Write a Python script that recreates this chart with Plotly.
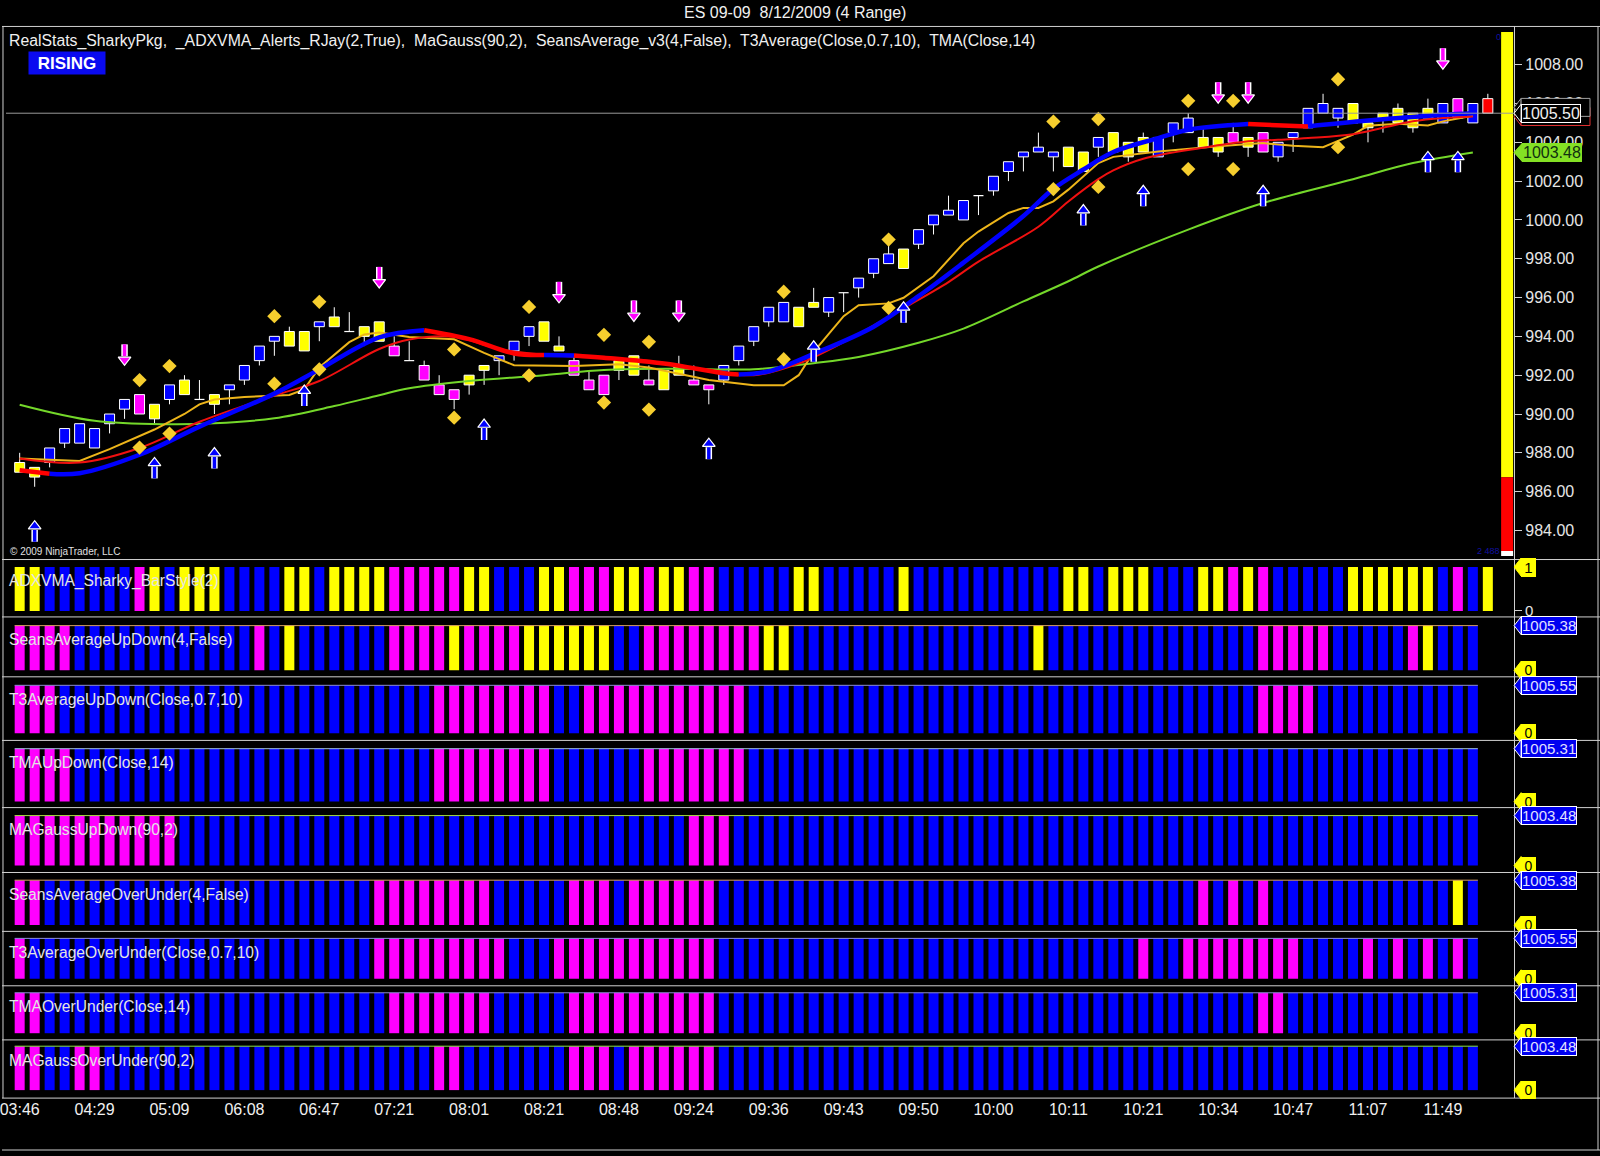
import plotly.graph_objects as go

# ---------------- data ----------------
title_text = "ES 09-09  8/12/2009 (4 Range)"
chart_label = ("RealStats_SharkyPkg,  _ADXVMA_Alerts_RJay(2,True),  MaGauss(90,2),  "
               "SeansAverage_v3(4,False),  T3Average(Close,0.7,10),  TMA(Close,14)")
trend_text = "RISING"
copyright_text = "© 2009 NinjaTrader, LLC"

time_labels = ["03:46", "04:29", "05:09", "06:08", "06:47", "07:21", "08:01", "08:21", "08:48", "09:24",
               "09:36", "09:43", "09:50", "10:00", "10:11", "10:21", "10:34", "10:47", "11:07", "11:49"]
price_ticks = [984, 986, 988, 990, 992, 994, 996, 998, 1000, 1002, 1004, 1006, 1008]

# 4-range candles, one per bar
opens = [987.5, 987.25, 987.5, 988.5, 988.5, 988.25, 989.5, 990.25, 991.0, 990.5,
         990.75, 991.75, 990.75, 991.0, 991.25, 991.75, 992.75, 993.75, 994.25, 994.25,
         994.5, 995.0, 994.25, 994.5, 994.75, 993.5, 992.75, 992.5, 991.5, 991.25,
         992.0, 992.5, 992.75, 993.25, 994.0, 994.75, 993.5, 992.75, 991.75, 992.0,
         992.75, 993.0, 991.75, 992.25, 992.5, 991.75, 991.5, 991.75, 992.75, 993.75,
         994.75, 994.75, 995.5, 995.75, 995.25, 996.25, 996.5, 997.25, 997.75, 998.5,
         998.75, 999.75, 1000.25, 1000.0, 1001.25, 1001.5, 1002.5, 1003.25, 1003.5, 1003.25,
         1003.75, 1003.5, 1003.75, 1004.5, 1004.0, 1004.25, 1003.25, 1004.5, 1004.5, 1004.25,
         1004.25, 1004.5, 1004.25, 1004.5, 1003.25, 1004.25, 1004.75, 1005.5, 1005.25, 1006.0,
         1005.0, 1005.5, 1005.75, 1005.5, 1005.75, 1005.0, 1006.25, 1005.0, 1006.25]
closes = [987.0, 986.75, 988.25, 989.25, 989.5, 989.25, 990.0, 990.75, 990.0, 989.75,
          991.5, 991.0, 990.75, 990.5, 991.5, 992.5, 993.5, 994.0, 993.5, 993.25,
          994.75, 994.5, 994.25, 994.0, 993.75, 993.0, 992.75, 991.75, 991.0, 990.75,
          991.5, 992.25, 993.0, 993.75, 994.5, 993.75, 993.25, 992.0, 991.25, 991.0,
          992.25, 992.0, 991.5, 991.25, 992.0, 991.5, 991.25, 992.5, 993.5, 994.5,
          995.5, 995.75, 994.5, 995.5, 996.0, 996.25, 997.0, 998.0, 998.25, 997.5,
          999.5, 1000.25, 1000.5, 1001.0, 1001.25, 1002.25, 1003.0, 1003.5, 1003.75, 1003.5,
          1002.75, 1002.5, 1004.25, 1003.5, 1003.25, 1003.5, 1004.25, 1005.0, 1005.25, 1003.75,
          1003.5, 1004.0, 1003.75, 1003.5, 1004.0, 1004.5, 1005.75, 1006.0, 1005.75, 1005.0,
          1004.75, 1005.25, 1005.0, 1004.75, 1005.25, 1006.0, 1005.25, 1006.0, 1005.5]
highs = [988.0, 987.25, 988.25, 989.25, 989.5, 989.25, 990.0, 990.75, 991.0, 990.5,
         991.5, 992.0, 991.75, 991.0, 991.5, 992.5, 993.5, 994.0, 994.5, 994.25,
         994.75, 995.5, 995.25, 994.5, 994.75, 994.0, 993.75, 992.75, 992.0, 991.25,
         992.0, 992.5, 993.0, 993.75, 994.5, 994.75, 994.0, 993.0, 992.25, 992.0,
         992.75, 993.0, 992.5, 992.25, 993.0, 992.5, 991.5, 992.5, 993.5, 994.5,
         995.5, 995.75, 995.5, 996.5, 996.0, 996.25, 997.0, 998.0, 998.75, 998.5,
         999.5, 1000.25, 1001.25, 1001.0, 1001.25, 1002.25, 1003.0, 1003.5, 1004.5, 1003.5,
         1003.75, 1003.5, 1004.25, 1004.5, 1004.0, 1004.5, 1004.25, 1005.0, 1005.5, 1004.75,
         1004.25, 1005.0, 1004.25, 1004.5, 1004.0, 1004.5, 1005.75, 1006.5, 1005.75, 1006.0,
         1005.0, 1005.5, 1006.0, 1005.5, 1006.25, 1006.0, 1006.25, 1006.0, 1006.5]
lows = [987.0, 986.25, 987.25, 988.25, 988.5, 988.25, 989.0, 989.75, 990.0, 989.5,
        990.5, 991.0, 990.75, 990.0, 990.5, 991.5, 992.5, 993.0, 993.5, 993.25,
        993.75, 994.5, 994.25, 993.5, 993.75, 993.0, 992.75, 991.75, 991.0, 990.25,
        991.0, 991.5, 992.0, 992.75, 993.5, 993.75, 993.25, 992.0, 991.25, 991.0,
        991.75, 992.0, 991.5, 991.25, 992.0, 991.5, 990.5, 991.5, 992.5, 993.5,
        994.5, 994.75, 994.5, 995.5, 995.0, 995.25, 996.0, 997.0, 997.75, 997.5,
        998.5, 999.25, 1000.25, 1000.0, 1000.25, 1001.25, 1002.0, 1002.5, 1003.5, 1002.5,
        1002.75, 1002.5, 1003.25, 1003.5, 1003.0, 1003.5, 1003.25, 1004.0, 1004.5, 1003.75,
        1003.25, 1004.0, 1003.25, 1003.5, 1003.0, 1003.5, 1004.75, 1005.5, 1004.75, 1005.0,
        1004.0, 1004.5, 1005.0, 1004.5, 1005.25, 1005.0, 1005.25, 1005.0, 1005.5]

# indicator lines (bar index, value) read at key bars
adx_bars = [0, 2, 4, 8, 12, 17, 20, 24, 27, 30, 33, 35, 37, 39, 43, 47, 48, 50, 53, 57, 60, 63, 67, 69,
            71, 73, 76, 78, 82, 86, 90, 95, 97]
adx_vals = [987.1, 986.92, 986.95, 987.9, 989.35, 991.05, 992.3, 993.95, 994.32, 993.86, 993.12, 993.04,
            993.02, 992.9, 992.6, 992.1, 992.04, 992.2, 993.1, 994.5, 996.07, 997.8, 1000.2, 1001.6,
            1002.6, 1003.5, 1004.22, 1004.65, 1004.94, 1004.82, 1005.12, 1005.42, 1005.5]
adx_falling = [(0, 2), (27, 35), (37, 48), (82, 86)]

tma_bars = [0, 4, 8, 12, 17, 20, 24, 26, 29, 32, 35, 39, 42, 46, 49, 52, 55, 59, 62, 64, 68, 70, 72, 73,
            75, 79, 82, 84, 86, 89, 91, 93, 95, 97]
tma_vals = [987.71, 987.5, 988.25, 989.6, 990.95, 991.7, 993.35, 993.84, 993.98, 993.35, 993.05, 992.9,
            992.73, 992.25, 992.0, 992.6, 993.7, 995.45, 996.8, 997.85, 999.65, 1000.95, 1002.1, 1002.55,
            1003.15, 1003.72, 1004.05, 1004.13, 1004.22, 1004.42, 1004.75, 1005.08, 1005.25, 1005.33]

t3_bars = [0, 4, 6, 9, 11, 12, 13, 15, 18, 19, 20, 22, 23, 24, 26, 29, 31, 33, 37, 40, 42, 46, 49, 51,
           52, 53, 55, 56, 58, 59, 61, 63, 64, 66, 67, 68, 69, 70, 72, 73, 76, 80, 83, 85, 87, 89, 90,
           92, 94, 95, 97]
t3_vals = [987.71, 987.58, 988.19, 989.2, 990.0, 990.5, 990.75, 990.88, 990.98, 991.27, 992.4, 993.7,
           994.1, 994.2, 993.97, 993.85, 993.15, 992.51, 992.47, 992.56, 992.4, 991.75, 991.48, 991.48,
           992.0, 993.2, 995.04, 995.61, 995.7, 995.99, 997.1, 998.8, 999.4, 1000.36, 1000.62, 1000.62,
           1000.96, 1001.56, 1002.93, 1003.25, 1003.53, 1003.8, 1003.96, 1003.82, 1003.75, 1004.4,
           1004.85, 1004.95, 1004.87, 1005.08, 1005.37]

gauss_bars = [0, 5, 10, 13, 17, 21, 24, 26, 30, 35, 39, 44, 49, 53, 56, 60, 63, 67, 70, 72, 78, 83, 89,
              93, 97]
gauss_vals = [990.48, 989.65, 989.47, 989.52, 989.78, 990.41, 990.97, 991.33, 991.7, 992.0, 992.27,
              992.33, 992.31, 992.62, 992.94, 993.67, 994.4, 995.8, 996.84, 997.6, 999.5, 1000.87,
              1002.1, 1002.93, 1003.48]

# alert diamonds above/below bars
diamond_bars = [8, 10, 17, 20, 29, 34, 39, 42, 51, 58, 69, 72, 78, 81, 88]
diamond_hi = [991.75, 992.47, 995.04, 995.78, 993.33, 995.52, 994.08, 993.72, 996.3, 998.99,
              1005.07, 1005.2, 1006.14, 1006.14, 1007.25]
diamond_lo = [988.27, 988.99, 991.56, 992.3, 989.81, 991.99, 990.59, 990.23, 992.82, 995.47,
              1001.59, 1001.7, 1002.62, 1002.62, 1003.75]

# alert arrows (tip price)
up_bars = [1, 9, 13, 19, 31, 46, 53, 59, 71, 75, 83, 94, 96]
up_tips = [984.45, 987.71, 988.22, 991.44, 989.69, 988.7, 993.72, 995.73, 1000.74, 1001.73,
           1001.73, 1003.48, 1003.48]
down_bars = [7, 24, 36, 41, 44, 80, 82, 95]
down_tips = [992.56, 996.55, 995.78, 994.82, 994.82, 1006.07, 1006.07, 1007.82]

# RealStats column at the right of the price panel
realstats_levels = [1009.69, 986.74, 982.94, 982.68]

# colour of every bar in each sub panel (run length: code, count)
panels = [
    ("ADXVMA_Sharky_BarStyle(2)", 1, [("Y", 2), ("B", 6), ("M", 1), ("Y", 1), ("B", 1), ("Y", 3), ("B", 4),
        ("Y", 2), ("B", 1), ("Y", 4), ("M", 5), ("Y", 2), ("B", 3), ("Y", 2), ("M", 3), ("Y", 2), ("M", 1),
        ("Y", 2), ("M", 2), ("B", 5), ("Y", 2), ("B", 5), ("Y", 1), ("B", 10), ("Y", 2), ("B", 1), ("Y", 3),
        ("B", 3), ("Y", 2), ("M", 1), ("Y", 1), ("M", 1), ("B", 5), ("Y", 6), ("B", 1), ("M", 1), ("B", 1),
        ("Y", 1)]),
    ("SeansAverageUpDown(4,False)", 1005.38, [("M", 4), ("B", 12), ("M", 1), ("B", 1), ("Y", 1), ("B", 6),
        ("M", 4), ("Y", 1), ("M", 4), ("Y", 6), ("B", 2), ("M", 8), ("Y", 2), ("B", 16), ("Y", 1), ("B", 14),
        ("M", 5), ("B", 5), ("M", 1), ("Y", 1), ("B", 3)]),
    ("T3AverageUpDown(Close,0.7,10)", 1005.55, [("M", 3), ("B", 25), ("M", 8), ("B", 2), ("M", 11),
        ("B", 34), ("M", 4), ("B", 11)]),
    ("TMAUpDown(Close,14)", 1005.31, [("M", 4), ("B", 24), ("M", 8), ("B", 6), ("M", 7), ("B", 49)]),
    ("MAGaussUpDown(90,2)", 1003.48, [("M", 11), ("B", 34), ("M", 3), ("B", 50)]),
    ("SeansAverageOverUnder(4,False)", 1005.38, [("M", 2), ("B", 22), ("M", 8), ("B", 5), ("M", 3), ("B", 1),
        ("M", 6), ("B", 32), ("M", 1), ("B", 1), ("M", 1), ("B", 1), ("M", 1), ("B", 12), ("Y", 1), ("B", 1)]),
    ("T3AverageOverUnder(Close,0.7,10)", 1005.55, [("M", 1), ("B", 23), ("M", 9), ("B", 3), ("M", 11),
        ("B", 28), ("M", 1), ("B", 2), ("M", 8), ("B", 4), ("M", 1), ("B", 1), ("M", 1), ("B", 1), ("M", 1),
        ("B", 1), ("M", 1), ("B", 1)]),
    ("TMAOverUnder(Close,14)", 1005.31, [("M", 2), ("B", 23), ("M", 7), ("B", 5), ("M", 10), ("B", 36),
        ("M", 2), ("B", 13)]),
    ("MAGaussOverUnder(90,2)", 1003.48, [("M", 2), ("B", 2), ("M", 2), ("B", 22), ("M", 2), ("B", 7),
        ("M", 3), ("B", 1), ("M", 6), ("B", 51)]),
]

# ---------------- styling / geometry ----------------
W, H = 1600, 1156
FONT = "Liberation Sans, Arial, sans-serif"
COL = {"Y": "#FFFF00", "B": "#0000FF", "M": "#FF00FF", "R": "#FF0000"}
FRAME = "#D0D0D0"
AXIS_PX = 1514          # price axis line
BAR0_PX, PITCH = 17.7, 15.0
BODY_W = 0.667

# separator top, separator bottom, bar top, bar bottom (pixels), top line colour
panel_geo = [
    (560.5, 618, 568, 612, None),
    (618, 678, 626.7, 671.5, "#D8A060"),
    (678, 741.7, 686.5, 734.5, "#8C8CD0"),
    (741.7, 809, 750, 803, "#A8C8E8"),
    (809, 874, 817, 867, "#A8E040"),
    (874, 933, 881.7, 926.7, "#D8A060"),
    (933, 987.5, 940, 980.5, "#9090E0"),
    (987.5, 1041.7, 994.5, 1035, "#8C8CD0"),
    (1041.7, 1100, 1048, 1092, "#88E040"),
]
MAIN_TOP, MAIN_BOT = 26.5, 560.5
P1008_PX, PX_PER_PT = 64.8, 19.44


def fx(p):
    return p / W


def fy(p):
    return 1 - p / H


def expand(runs):
    return "".join(c * n for c, n in runs)


n_bars = len(opens)
idx = list(range(n_bars))
x_lo = -BAR0_PX / PITCH
x_hi = x_lo + AXIS_PX / PITCH

fig = go.Figure()

# ---- candles ----
candle_codes = expand(panels[0][2])[:-1] + "R"   # live bar painted red
wx, wy = [], []
for i in idx:
    top, bot = max(opens[i], closes[i]), min(opens[i], closes[i])
    if highs[i] > top:
        wx += [i, i, None]
        wy += [top, highs[i], None]
    if lows[i] < bot:
        wx += [i, i, None]
        wy += [lows[i], bot, None]
fig.add_trace(go.Scatter(x=wx, y=wy, mode="lines", line=dict(color="white", width=1), hoverinfo="skip"))

body = [i for i in idx if opens[i] != closes[i]]
fig.add_trace(go.Bar(
    x=body,
    y=[abs(closes[i] - opens[i]) for i in body],
    base=[min(opens[i], closes[i]) for i in body],
    width=BODY_W,
    marker=dict(color=[COL[candle_codes[i]] for i in body], line=dict(color="white", width=1)),
))
dx, dy = [], []
for i in idx:
    if opens[i] == closes[i]:
        dx += [i - BODY_W / 2, i + BODY_W / 2, None]
        dy += [opens[i], opens[i], None]
fig.add_trace(go.Scatter(x=dx, y=dy, mode="lines", line=dict(color="white", width=1.2), hoverinfo="skip"))

# ---- indicator lines ----
fig.add_trace(go.Scatter(x=gauss_bars, y=gauss_vals, mode="lines", line=dict(color="#74D82A", width=2, shape="spline")))
fig.add_trace(go.Scatter(x=t3_bars, y=t3_vals, mode="lines", line=dict(color="#EDB51A", width=2)))
fig.add_trace(go.Scatter(x=tma_bars, y=tma_vals, mode="lines", line=dict(color="#F01010", width=2, shape="spline")))

# ADXVMA: blue while rising, red while falling
cuts = sorted({b for seg in adx_falling for b in seg} | {adx_bars[0], adx_bars[-1]})
for a, b in zip(cuts[:-1], cuts[1:]):
    falling = any(s <= a and b <= e for s, e in adx_falling)
    xs = [bb for bb in adx_bars if a <= bb <= b]
    ys = [v for bb, v in zip(adx_bars, adx_vals) if a <= bb <= b]
    fig.add_trace(go.Scatter(x=xs, y=ys, mode="lines",
                             line=dict(color="#FF0000" if falling else "#0000FF", width=4.5, shape="spline")))

# ---- diamonds ----
fig.add_trace(go.Scatter(x=diamond_bars + diamond_bars, y=diamond_hi + diamond_lo, mode="markers",
                         marker=dict(symbol="diamond", size=11, color="#F6CE2E")))

# ---- alert arrows: white-edged shaft plus head ----
TAIL, NECK, HEAD_C = 20 / PX_PER_PT, 8 / PX_PER_PT, 4.5 / PX_PER_PT
for bars, tips, col, sgn, sym in [(up_bars, up_tips, "#0000FF", -1, "triangle-up"),
                                  (down_bars, down_tips, "#FF00FF", 1, "triangle-down")]:
    sx, sy = [], []
    for b, t in zip(bars, tips):
        sx += [b, b, None]
        sy += [t + sgn * TAIL, t + sgn * NECK, None]
    fig.add_trace(go.Scatter(x=sx, y=sy, mode="lines", line=dict(color="white", width=6.5), hoverinfo="skip"))
    fig.add_trace(go.Scatter(x=sx, y=sy, mode="lines", line=dict(color=col, width=3.5), hoverinfo="skip"))
    fig.add_trace(go.Scatter(x=bars, y=[t + sgn * HEAD_C for t in tips], mode="markers", hoverinfo="skip",
                             marker=dict(symbol=sym, size=11, color=col, line=dict(color="white", width=1.2))))

# ---- sub panels ----
for k, (name, top_val, runs) in enumerate(panels):
    codes = expand(runs)
    yname = "y" + (str(k + 2))
    fig.add_trace(go.Bar(x=list(range(len(codes))), y=[top_val] * len(codes), width=BODY_W,
                         marker=dict(color=[COL[c] for c in codes], line=dict(width=0)),
                         xaxis="x", yaxis=yname))
    line_col = panel_geo[k][4]
    if line_col:
        fig.add_trace(go.Scatter(x=[-BODY_W / 2, len(codes) - 1 + BODY_W / 2], y=[top_val, top_val],
                                 mode="lines", line=dict(color=line_col, width=1), xaxis="x", yaxis=yname))

# ---------------- layout ----------------
main_lo = 1008 - (MAIN_BOT - P1008_PX) / PX_PER_PT
main_hi = 1008 + (P1008_PX - MAIN_TOP) / PX_PER_PT

layout = dict(
    width=W, height=H, margin=dict(l=0, r=0, t=0, b=0),
    paper_bgcolor="black", plot_bgcolor="black", showlegend=False, barmode="overlay",
    font=dict(family=FONT, color="#E8E8E8"),
    xaxis=dict(domain=[0, fx(AXIS_PX)], range=[x_lo, x_hi], anchor="y10",
               tickvals=[5 * i for i in range(len(time_labels))], ticktext=time_labels,
               tickfont=dict(size=16, color="#F0F0F0"), ticks="", showgrid=False, zeroline=False,
               showline=False, ticklabeloverflow="allow"),
    yaxis=dict(domain=[fy(MAIN_BOT), fy(MAIN_TOP)], range=[main_lo, main_hi], anchor="x", side="right",
               tickvals=price_ticks, ticktext=["%.2f" % v for v in price_ticks],
               tickfont=dict(size=16, color="#E6E6E6"), ticks="outside", ticklen=7, tickcolor=FRAME,
               showgrid=False, zeroline=False, showline=True, linecolor=FRAME),
)
for k, (name, top_val, runs) in enumerate(panels):
    st, sb, bt, bb, _ = panel_geo[k]
    ppu = (bb - bt) / top_val
    ax = dict(domain=[fy(sb), fy(st)], range=[-(sb - bb) / ppu, top_val + (bt - st) / ppu],
              anchor="x", side="right", showgrid=False, zeroline=False, showline=True, linecolor=FRAME,
              showticklabels=False, ticks="")
    if k == 0:
        ax.update(showticklabels=True, tickvals=[0], ticktext=["0"], ticks="outside", ticklen=7,
                  tickcolor=FRAME, tickfont=dict(size=15, color="#E6E6E6"))
    layout["yaxis%d" % (k + 2)] = ax
fig.update_layout(**layout)

shapes = []
for p in [MAIN_TOP, MAIN_BOT] + [g[1] for g in panel_geo] + [1152]:
    shapes.append(dict(type="line", xref="paper", yref="paper", x0=0, x1=1, y0=fy(p), y1=fy(p),
                       line=dict(color=FRAME, width=1)))
shapes.append(dict(type="line", xref="paper", yref="paper", x0=fx(1), x1=fx(1), y0=fy(1100), y1=fy(MAIN_TOP),
                   line=dict(color=FRAME, width=1)))
shapes.append(dict(type="line", xref="paper", yref="paper", x0=fx(1598), x1=fx(1598), y0=fy(1152),
                   y1=fy(MAIN_TOP), line=dict(color=FRAME, width=1)))
# last price line
shapes.append(dict(type="line", xref="paper", yref="y", x0=fx(4), x1=fx(AXIS_PX), y0=closes[-1], y1=closes[-1],
                   line=dict(color="#9A9A9A", width=1)))
# RealStats column
for (y0, y1), c in zip(zip(realstats_levels[1:], realstats_levels[:-1]), ["#FFFF00", "#FF0000", "#FFFFFF"]):
    shapes.append(dict(type="rect", xref="paper", yref="y", x0=fx(1501), x1=fx(1513), y0=y0, y1=y1,
                       fillcolor=c, line=dict(width=0), layer="below"))


def txt(text, x, y, size, color="#F0F0F0", anchor="left", **kw):
    d = dict(text=text, xref="paper", yref="paper", x=fx(x), y=fy(y), xanchor=anchor, yanchor="middle",
             showarrow=False, font=dict(size=size, color=color))
    d.update(kw)
    return d


annotations = [
    txt(title_text, 794, 13, 16, anchor="center"),
    txt(chart_label, 5, 41, 15.8),
    txt("<b>%s</b>" % trend_text, 26.5, 63.5, 17, color="white", bgcolor="#0A0AF0", width=74, height=20),
    txt(copyright_text, 6, 552, 10, color="#E0E0E0"),
    txt("0", 1498, 37, 9, color="#1010A0", anchor="center"),
    txt("2 488", 1488, 552, 9, color="#1010A0", anchor="center"),
]
for k, (name, top_val, runs) in enumerate(panels):
    st, sb, bt, bb, _ = panel_geo[k]
    annotations.append(txt(name, 5, bt + 14, 15.6, color="#E4E4E4"))


def tag_point(yc, bg, border, x_left=1521, half=9):
    shapes.append(dict(type="path", xref="paper", yref="paper",
                       path="M %f,%f L %f,%f L %f,%f Z" % (fx(AXIS_PX), fy(yc), fx(x_left), fy(yc - half),
                                                           fx(x_left), fy(yc + half)),
                       fillcolor=bg, line=dict(color=border, width=1)))


def tag(text, yc, bg, border, fcol, size, x_left=1521, w=None):
    tag_point(yc, bg, border, x_left)
    d = txt(text, x_left, yc, size, color=fcol, bgcolor=bg, bordercolor=border, borderwidth=1, borderpad=0)
    if w:
        d["width"] = w
    annotations.append(d)


def price_px(p):
    return P1008_PX + (1008 - p) * PX_PER_PT


for k, (name, top_val, runs) in enumerate(panels):
    st, sb, bt, bb, _ = panel_geo[k]
    if k == 0:
        tag("1", bt, "#FFFF00", "#FFFF00", "black", 15, w=13)
    else:
        tag("%.2f" % top_val, bt, "#0000F0", "#FFFFFF", "#E0E0FF", 15)
        tag("0", bb, "#FFFF00", "#FFFF00", "black", 14, w=13)

# price tags stacked behind the last-price tag (only their edges show)
for val, border in [(tma_vals[-1], "#E03030"), (1005.8, "#A0A0A0")]:
    yc = price_px(val)
    tag_point(yc, "black", border)
    shapes.append(dict(type="rect", xref="paper", yref="paper", x0=fx(1521), x1=fx(1590),
                       y0=fy(yc + 9), y1=fy(yc - 9), fillcolor="black", line=dict(color=border, width=1)))
tag("%.2f" % closes[-1], price_px(closes[-1]), "black", "#FFFFFF", "#F0F0F0", 16)
tag("%.2f" % gauss_vals[-1], price_px(gauss_vals[-1]), "#84E024", "#84E024", "#103010", 16, x_left=1522)

fig.update_layout(shapes=shapes, annotations=annotations)
fig.write_html("out.html", config={"displayModeBar": False},
               post_script="document.body.style.margin='0px';document.body.style.overflow='hidden';")
